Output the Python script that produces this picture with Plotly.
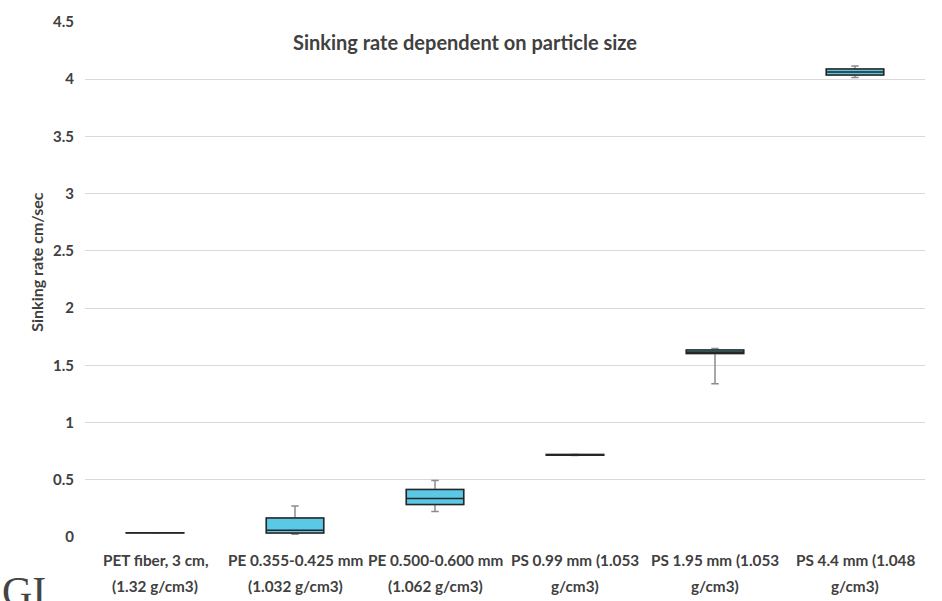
import plotly.graph_objects as go

# Particle categories (two-line labels)
label_line1 = ["PET fiber, 3 cm,", "PE 0.355-0.425 mm", "PE 0.500-0.600 mm",
               "PS 0.99 mm (1.053", "PS 1.95 mm (1.053", "PS 4.4 mm (1.048"]
label_line2 = ["(1.32 g/cm3)", "(1.032 g/cm3)", "(1.062 g/cm3)",
               "g/cm3)", "g/cm3)", "g/cm3)"]
categories = [a + " " + b for a, b in zip(label_line1, label_line2)]

# Box statistics of sinking rate (cm/sec)
lower_whisker = [0.032, 0.024, 0.223, 0.713, 1.339, 4.014]
q1 = [0.034, 0.035, 0.284, 0.715, 1.603, 4.037]
median = [0.035, 0.058, 0.337, 0.717, 1.617, 4.063]
q3 = [0.037, 0.165, 0.415, 0.720, 1.635, 4.090]
upper_whisker = [0.038, 0.270, 0.493, 0.722, 1.647, 4.115]

y_ticks = [0, 0.5, 1, 1.5, 2, 2.5, 3, 3.5, 4, 4.5]

FONT = "Lato"
TEXT = "#404040"
BOX_FILL = "#5BC8E6"

fig = go.Figure()

# Whiskers (grey) drawn first
fig.add_trace(go.Box(
    x=categories, q1=q1, median=median, q3=q3,
    lowerfence=lower_whisker, upperfence=upper_whisker,
    width=0.41, whiskerwidth=0.13,
    fillcolor=BOX_FILL, line=dict(color="#8c8c8c", width=1.5),
    boxpoints=False, showlegend=False, hoverinfo="skip",
))
# Box body with dark outline on top
fig.add_trace(go.Box(
    x=categories, q1=q1, median=median, q3=q3,
    lowerfence=q1, upperfence=q3,
    width=0.41, whiskerwidth=0,
    fillcolor=BOX_FILL, line=dict(color="#262626", width=1.5),
    boxpoints=False, showlegend=False,
))

annotations = []
for cat, l1, l2 in zip(categories, label_line1, label_line2):
    annotations.append(dict(x=cat, xref="x", y=-0.044, yref="paper",
                            text=l1, showarrow=False, xanchor="center", yanchor="middle",
                            font=dict(family=FONT, size=15.3, color=TEXT, weight="bold")))
    annotations.append(dict(x=cat, xref="x", y=-0.096, yref="paper",
                            text=l2, showarrow=False, xanchor="center", yanchor="middle",
                            font=dict(family=FONT, size=15.3, color=TEXT, weight="bold")))

# Y-axis title
annotations.append(dict(x=-0.058, xref="paper", y=0.535, yref="paper",
                        text="Sinking rate cm/sec", textangle=-90, showarrow=False,
                        xanchor="center", yanchor="middle",
                        font=dict(family=FONT, size=16, color=TEXT, weight="bold")))
# Chart title
annotations.append(dict(x=0.452, xref="paper", y=0.962, yref="paper",
                        text="Sinking rate dependent on particle size", showarrow=False,
                        xanchor="center", yanchor="middle",
                        font=dict(family=FONT, size=20, color=TEXT, weight="bold")))
# Corner mark
annotations.append(dict(x=-0.101, xref="paper", y=-0.058, yref="paper",
                        xanchor="left", yanchor="top", text="GI", showarrow=False,
                        font=dict(family="Liberation Serif", size=42, color="#444444")))

fig.update_layout(
    width=942, height=601,
    margin=dict(l=85, r=17, t=15, b=64),
    paper_bgcolor="white", plot_bgcolor="white",
    boxmode="overlay",
    annotations=annotations,
    xaxis=dict(showticklabels=False, showgrid=False, zeroline=False,
               showline=False, range=[-0.5, 5.5]),
    yaxis=dict(range=[0, 4.5], tickvals=y_ticks, showgrid=True,
               gridcolor="#d9d9d9", gridwidth=1, zeroline=False, showline=False,
               ticklabelstandoff=10,
               tickfont=dict(family=FONT, size=15, color=TEXT, weight="bold")),
)

fig.write_html("out.html")
